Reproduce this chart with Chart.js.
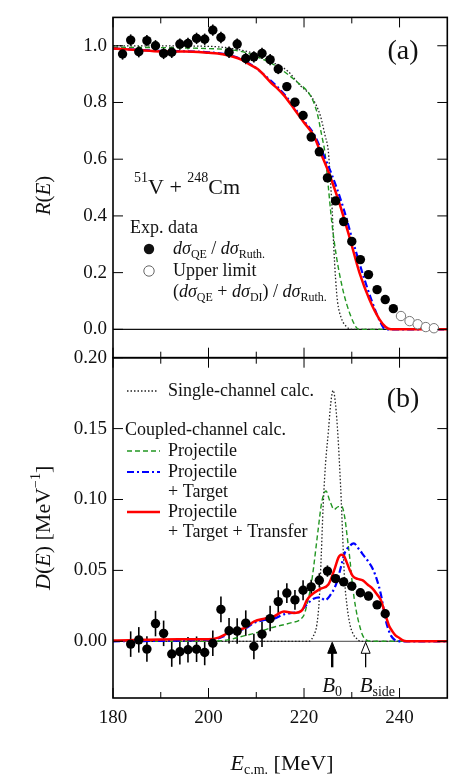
<!DOCTYPE html>
<html>
<head>
<meta charset="utf-8">
<script src="https://cdn.jsdelivr.net/npm/chart.js@4.4.0/dist/chart.umd.min.js"></script>
<style>
  html, body { margin: 0; padding: 0; background: #fff; }
  #chart { display: block; }
</style>
</head>
<body>
<canvas id="chart" width="453" height="776"></canvas>
<script>
// ---- values ----
const xMajorTicks = [180, 200, 220, 240];
const xMinorTicks = [190, 210, 230];
const rTicks = [0, 0.2, 0.4, 0.6, 0.8, 1.0];
const dTicks = [0, 0.05, 0.10, 0.15, 0.20];
const barrierB0 = 225.9;
const barrierBside = 232.9;

// (a) quasi-elastic ratio R(E)
const expE = [182.0, 183.7, 185.4, 187.1, 188.9, 190.6, 192.3, 194.0, 195.7, 197.5, 199.2, 200.9, 202.6, 204.3, 206.0, 207.8, 209.5, 211.2, 212.9, 214.6, 216.4, 218.1, 219.8, 221.5, 223.2, 224.9, 226.6, 228.3, 230.0, 231.8, 233.5, 235.3, 237.0, 238.7];
const expR = [0.971, 1.020, 0.979, 1.018, 1.000, 0.973, 0.977, 1.006, 1.008, 1.026, 1.023, 1.055, 1.029, 0.977, 1.006, 0.955, 0.961, 0.973, 0.951, 0.918, 0.856, 0.801, 0.754, 0.678, 0.626, 0.534, 0.453, 0.380, 0.310, 0.246, 0.193, 0.140, 0.105, 0.073];
const expRErr = [0.02, 0.02, 0.02, 0.02, 0.02, 0.02, 0.02, 0.02, 0.02, 0.02, 0.02, 0.02, 0.02, 0.02, 0.02, 0.02, 0.02, 0.02, 0.02, 0.018, 0.015, 0.015, 0.015, 0.012, 0.012, 0.01, 0.01, 0.01, 0.01, 0.008, 0.008, 0.008, 0.006, 0.006];
const upperE = [240.3, 242.1, 243.8, 245.5, 247.2];
const upperR = [0.047, 0.029, 0.018, 0.008, 0.004];

const singleRE = [180, 200, 205, 210, 213, 216.5, 219.2, 221.6, 223.4, 224.4, 225.1, 225.5, 225.9, 226.2, 226.6, 227.0, 227.8, 229.0, 230.0, 250];
const singleR  = [1.0, 0.998, 0.99, 0.97, 0.945, 0.912, 0.86, 0.819, 0.754, 0.684, 0.626, 0.53, 0.42, 0.30, 0.18, 0.10, 0.04, 0.008, 0, 0];
const projRE = [180, 200, 205, 208, 211, 213, 215.1, 218.6, 221.3, 222.7, 223.7, 224.4, 225.1, 225.8, 226.8, 228.2, 229.6, 230.9, 231.5, 250];
const projR  = [0.995, 0.99, 0.985, 0.975, 0.955, 0.94, 0.918, 0.871, 0.825, 0.766, 0.684, 0.62, 0.50, 0.38, 0.255, 0.135, 0.055, 0.008, 0, 0];
const projTargRE = [180, 190, 200, 205, 208.5, 211.7, 215.8, 219.9, 222.0, 223.7, 225.8, 228.2, 230.2, 232.3, 234.4, 235.8, 237.1, 250];
const projTargR  = [0.99, 0.982, 0.977, 0.964, 0.938, 0.897, 0.83, 0.737, 0.69, 0.63, 0.546, 0.43, 0.312, 0.195, 0.09, 0.032, 0, 0];
const fullRE = [180, 185, 190, 195, 200, 203, 205, 207, 208.5, 210.3, 211.7, 213.0, 214.4, 215.8, 217.9, 219.9, 222.0, 223.7, 225.1, 226.1, 227.5, 229.6, 231.6, 233.7, 235.8, 237.1, 238.2, 250];
const fullR  = [0.99, 0.985, 0.98, 0.98, 0.975, 0.97, 0.962, 0.95, 0.935, 0.918, 0.895, 0.871, 0.85, 0.825, 0.778, 0.731, 0.684, 0.614, 0.556, 0.51, 0.44, 0.32, 0.2, 0.105, 0.035, 0.008, 0, 0];

// (b) barrier distribution D(E)
const expDE = [183.7, 185.4, 187.1, 188.9, 190.6, 192.3, 194.0, 195.7, 197.5, 199.2, 200.9, 202.6, 204.3, 206.0, 207.8, 209.5, 211.2, 212.9, 214.6, 216.4, 218.1, 219.8, 221.5, 223.2, 224.9, 226.6, 228.3, 230.0, 231.8, 233.5, 235.3, 237.0];
const expD = [-0.002, 0.001, -0.0055, 0.0125, 0.0056, -0.009, -0.0074, -0.006, -0.0056, -0.0079, -0.0014, 0.0225, 0.0074, 0.0072, 0.0128, -0.0037, 0.005, 0.016, 0.028, 0.034, 0.0292, 0.036, 0.0384, 0.043, 0.0495, 0.0442, 0.0419, 0.0389, 0.0342, 0.0319, 0.0257, 0.0194];
const expDErr = [0.009, 0.009, 0.009, 0.009, 0.009, 0.009, 0.009, 0.009, 0.009, 0.009, 0.009, 0.009, 0.009, 0.009, 0.009, 0.009, 0.009, 0.009, 0.008, 0.007, 0.007, 0.007, 0.005, 0.005, 0.004, 0.003, 0.003, 0.003, 0.003, 0.003, 0.003, 0.003];

const singleDE = [180, 221.0, 222.0, 222.7, 223.2, 223.6, 224.0, 224.5, 225.1, 225.6, 226.1, 226.6, 227.1, 227.5, 227.8, 228.2, 228.5, 229.0, 229.6, 230.3, 231.0, 231.8, 250];
const singleD  = [0, 0, 0.004, 0.012, 0.03, 0.06, 0.095, 0.125, 0.148, 0.168, 0.177, 0.167, 0.145, 0.12, 0.099, 0.065, 0.043, 0.025, 0.012, 0.005, 0.002, 0, 0];
const projDE = [180, 200, 204, 207.6, 210, 213.1, 217.2, 219.9, 220.9, 221.5, 222.0, 222.5, 223.0, 223.7, 224.6, 225.4, 226.3, 227.2, 227.9, 228.5, 229.1, 229.6, 230.2, 230.7, 231.2, 231.8, 232.3, 233.0, 234.0, 250];
const projD  = [0, 0, 0.001, 0.004, 0.006, 0.0095, 0.013, 0.018, 0.03, 0.04, 0.052, 0.066, 0.080, 0.098, 0.106, 0.099, 0.093, 0.095, 0.095, 0.088, 0.072, 0.058, 0.038, 0.026, 0.017, 0.009, 0.004, 0.001, 0, 0];
const projTargDE = [180, 200, 202, 204.8, 207.6, 209.6, 211.7, 213.7, 215.8, 217.5, 219.2, 220.6, 222.0, 223.4, 224.4, 225.4, 226.8, 227.7, 228.5, 229.5, 230.4, 231.5, 232.6, 233.5, 234.4, 235.3, 236.1, 236.6, 237.1, 237.7, 238.2, 239.0, 240.0, 250];
const projTargD  = [0, 0.0012, 0.002, 0.006, 0.009, 0.013, 0.015, 0.016, 0.019, 0.020, 0.021, 0.026, 0.030, 0.031, 0.029, 0.032, 0.041, 0.052, 0.062, 0.067, 0.069, 0.065, 0.060, 0.056, 0.051, 0.043, 0.033, 0.024, 0.015, 0.008, 0.004, 0.001, 0, 0];
const fullDE = [180, 193.8, 200, 202.1, 204.8, 207.6, 209.6, 211.7, 213.7, 215.8, 217.9, 219.6, 220.6, 221.3, 223.4, 225.1, 226.5, 227.2, 227.8, 228.4, 228.9, 229.6, 230.2, 231.2, 232.3, 233.3, 234.4, 235.3, 236.1, 237.1, 237.8, 238.5, 239.2, 239.9, 240.6, 241.5, 250];
const fullD  = [0.0005, 0.0014, 0.0014, 0.0026, 0.007, 0.0095, 0.014, 0.016, 0.0176, 0.021, 0.020, 0.022, 0.029, 0.032, 0.037, 0.040, 0.052, 0.059, 0.061, 0.060, 0.056, 0.050, 0.046, 0.044, 0.043, 0.040, 0.037, 0.033, 0.029, 0.018, 0.011, 0.007, 0.004, 0.0025, 0.0008, 0, 0];

// ---- styles ----
const SERIF = '"Liberation Serif", "Times New Roman", serif';
const RED = 'rgb(255,0,0)', BLUE = 'rgb(0,0,255)', GREEN = 'rgb(34,150,34)', DOT = '#222';
const styleSingle = { borderColor: DOT, borderWidth: 1.3, borderDash: [1.5, 2] };
const styleProj = { borderColor: GREEN, borderWidth: 1.4, borderDash: [5, 3] };
const styleProjTarg = { borderColor: BLUE, borderWidth: 2.2, borderDash: [7, 3, 2, 3] };
const styleFull = { borderColor: RED, borderWidth: 2.5, borderDash: [] };
const LEG = 18;

const pts = (xs, ys) => xs.map((x, i) => ({ x: x, y: ys[i] }));

function curve(xs, ys, axis, style) {
  return Object.assign({
    data: pts(xs, ys), yAxisID: axis, showLine: true, fill: false,
    pointRadius: 0, cubicInterpolationMode: 'monotone'
  }, style);
}

function font(size, italic) {
  return (italic ? 'italic ' : '') + size + 'px ' + SERIF;
}

// parts: [text, size, italic, dy]
function rich(ctx, x, y, parts, align) {
  let w = 0;
  parts.forEach(p => { ctx.font = font(p[1], p[2]); w += ctx.measureText(p[0]).width; });
  let cx = align === 'center' ? x - w / 2 : x;
  parts.forEach(p => {
    ctx.font = font(p[1], p[2]);
    ctx.fillText(p[0], cx, y + (p[3] || 0));
    cx += ctx.measureText(p[0]).width;
  });
}

function sample(ctx, x1, x2, y, style) {
  ctx.save();
  ctx.strokeStyle = style.borderColor;
  ctx.lineWidth = style.borderWidth;
  ctx.setLineDash(style.borderDash);
  ctx.beginPath(); ctx.moveTo(x1, y); ctx.lineTo(x2, y); ctx.stroke();
  ctx.restore();
}

const panelPlugin = {
  id: 'panelPlugin',
  beforeDatasetsDraw(chart) {
    const ctx = chart.ctx, xs = chart.scales.x;
    // zero lines
    [['yR', 1.3, '#111'], ['yD', 1, '#444']].forEach(([id, lw, col]) => {
      const ys = chart.scales[id];
      const y0 = ys.getPixelForValue(0);
      ctx.save();
      ctx.strokeStyle = col; ctx.lineWidth = lw;
      ctx.beginPath(); ctx.moveTo(xs.left, y0); ctx.lineTo(xs.right, y0); ctx.stroke();
      ctx.restore();
    });
    // error bars
    chart.data.datasets.forEach((ds, i) => {
      if (!ds.errors) return;
      const ys = chart.scales[ds.yAxisID];
      const meta = chart.getDatasetMeta(i);
      ctx.save();
      ctx.strokeStyle = '#000'; ctx.lineWidth = 1.6;
      meta.data.forEach((el, j) => {
        const v = ds.data[j].y, e = ds.errors[j];
        ctx.beginPath();
        ctx.moveTo(el.x, ys.getPixelForValue(v + e));
        ctx.lineTo(el.x, ys.getPixelForValue(v - e));
        ctx.stroke();
      });
      ctx.restore();
    });
  },
  afterDraw(chart) {
    const ctx = chart.ctx, xs = chart.scales.x;
    const yR = chart.scales.yR, yD = chart.scales.yD;
    const line = (a, b, c, d) => { ctx.beginPath(); ctx.moveTo(a, b); ctx.lineTo(c, d); ctx.stroke(); };

    // frames and inward ticks
    ctx.save();
    ctx.strokeStyle = '#000';
    [yR, yD].forEach(ys => {
      ctx.lineWidth = 1;
      ys.ticks.forEach(t => {
        const py = ys.getPixelForValue(t.value);
        line(xs.left, py, xs.left + 10, py);
        line(xs.right, py, xs.right - 10, py);
      });
      xMajorTicks.concat(xMinorTicks).forEach(v => {
        const px = xs.getPixelForValue(v);
        const len = xMajorTicks.includes(v) ? 10 : 6;
        line(px, ys.top, px, ys.top + len);
        line(px, ys.bottom, px, ys.bottom - len);
      });
      ctx.lineWidth = 1.6;
      ctx.strokeRect(xs.left, ys.top, xs.right - xs.left, ys.bottom - ys.top);
    });
    ctx.restore();

    ctx.save();
    ctx.fillStyle = '#111';
    ctx.textBaseline = 'alphabetic';

    // panel (a) annotations
    ctx.textAlign = 'left';
    rich(ctx, 403, 59, [['(a)', 28]], 'center');
    rich(ctx, 134, 194, [['51', 14, false, -12], ['V', 22], [' + ', 22], ['248', 14, false, -12], ['Cm', 22]]);
    rich(ctx, 130, 233, [['Exp. data', LEG]]);
    ctx.beginPath(); ctx.arc(149, 249, 5.2, 0, Math.PI * 2); ctx.fill();
    rich(ctx, 173, 254, [['d\u03C3', LEG, true], ['QE', 12, false, 4], [' / ', LEG], ['d\u03C3', LEG, true], ['Ruth.', 12, false, 4]]);
    ctx.save();
    ctx.strokeStyle = '#666'; ctx.lineWidth = 1; ctx.fillStyle = '#fff';
    ctx.beginPath(); ctx.arc(149, 271, 5.2, 0, Math.PI * 2); ctx.fill(); ctx.stroke();
    ctx.restore();
    rich(ctx, 173, 276, [['Upper limit', LEG]]);
    rich(ctx, 173, 297, [['(', LEG], ['d\u03C3', LEG, true], ['QE', 12, false, 4], [' + ', LEG], ['d\u03C3', LEG, true], ['DI', 12, false, 4], [') / ', LEG], ['d\u03C3', LEG, true], ['Ruth.', 12, false, 4]]);

    // panel (b) annotations
    rich(ctx, 403, 407, [['(b)', 28]], 'center');
    sample(ctx, 127, 158, 391, styleSingle);
    rich(ctx, 168, 396, [['Single-channel calc.', LEG]]);
    rich(ctx, 125, 435, [['Coupled-channel calc.', LEG]]);
    sample(ctx, 127, 160, 451, styleProj);
    rich(ctx, 168, 456, [['Projectile', LEG]]);
    sample(ctx, 127, 160, 472, styleProjTarg);
    rich(ctx, 168, 477, [['Projectile', LEG]]);
    rich(ctx, 168, 497, [['+ Target', LEG]]);
    sample(ctx, 127, 160, 512, styleFull);
    rich(ctx, 168, 517, [['Projectile', LEG]]);
    rich(ctx, 168, 537, [['+ Target + Transfer', LEG]]);

    // barrier arrows
    const tipY = yD.getPixelForValue(0);
    [[barrierB0, true], [barrierBside, false]].forEach(([e, filled]) => {
      const px = xs.getPixelForValue(e);
      ctx.save();
      ctx.strokeStyle = '#000';
      ctx.lineWidth = filled ? 2.4 : 1.3;
      line(px, tipY + 11, px, tipY + 26);
      ctx.lineWidth = 1;
      ctx.beginPath();
      ctx.moveTo(px, tipY + 1); ctx.lineTo(px - 4.5, tipY + 12); ctx.lineTo(px + 4.5, tipY + 12); ctx.closePath();
      ctx.fillStyle = filled ? '#000' : '#fff';
      ctx.fill(); ctx.stroke();
      ctx.restore();
    });
    rich(ctx, xs.getPixelForValue(barrierB0), 692, [['B', 21, true], ['0', 14, false, 4]], 'center');
    rich(ctx, xs.getPixelForValue(barrierBside) - 6, 692, [['B', 21, true], ['side', 14, false, 4]]);

    // axis titles
    rich(ctx, 282, 770, [['E', 22, true], ['c.m.', 14, false, 4], [' [MeV]', 22]], 'center');
    ctx.save();
    ctx.translate(50, (yR.top + yR.bottom) / 2 + 8);
    ctx.rotate(-Math.PI / 2);
    rich(ctx, 0, 0, [['R', 21, true], ['(', 21], ['E', 21, true], [')', 21]], 'center');
    ctx.restore();
    ctx.save();
    ctx.translate(50, (yD.top + yD.bottom) / 2);
    ctx.rotate(-Math.PI / 2);
    rich(ctx, 0, 0, [['D', 22, true], ['(', 22], ['E', 22, true], [') [MeV', 22], ['\u22121', 14, false, -10], [']', 22]], 'center');
    ctx.restore();

    ctx.restore();
  }
};

const tickFont = { family: SERIF, size: 19 };

const yScale = (min, max, values, digits) => ({
  type: 'linear', position: 'left', stack: 'panels', stackWeight: 1,
  min: min, max: max,
  grid: { display: false, drawTicks: false },
  border: { display: false },
  afterBuildTicks: s => { s.ticks = values.map(v => ({ value: v })); },
  afterFit: s => { s.width = 113; },
  ticks: {
    autoSkip: false, padding: 6, color: '#111', font: tickFont,
    callback: v => Number(v).toFixed(digits)
  }
});

new Chart(document.getElementById('chart').getContext('2d'), {
  type: 'line',
  data: {
    datasets: [
      { data: pts(expE, expR), errors: expRErr, yAxisID: 'yR', showLine: false,
        pointRadius: 4.7, pointBackgroundColor: '#000', pointBorderColor: '#000', pointBorderWidth: 0 },
      { data: pts(upperE, upperR), yAxisID: 'yR', showLine: false,
        pointRadius: 4.7, pointBackgroundColor: '#fff', pointBorderColor: '#777', pointBorderWidth: 1 },
      { data: pts(expDE, expD), errors: expDErr, yAxisID: 'yD', showLine: false,
        pointRadius: 4.7, pointBackgroundColor: '#000', pointBorderColor: '#000', pointBorderWidth: 0 },
      curve(fullRE, fullR, 'yR', styleFull),
      curve(fullDE, fullD, 'yD', styleFull),
      curve(projTargRE, projTargR, 'yR', styleProjTarg),
      curve(projTargDE, projTargD, 'yD', styleProjTarg),
      curve(projRE, projR, 'yR', styleProj),
      curve(projDE, projD, 'yD', styleProj),
      curve(singleRE, singleR, 'yR', styleSingle),
      curve(singleDE, singleD, 'yD', styleSingle)
    ]
  },
  options: {
    responsive: false,
    animation: false,
    layout: { padding: { left: 0, right: 1, top: 10, bottom: 0 } },
    plugins: { legend: { display: false }, tooltip: { enabled: false } },
    scales: {
      x: {
        type: 'linear', position: 'bottom', min: 180, max: 250,
        grid: { display: false, drawTicks: false },
        border: { display: false },
        afterBuildTicks: s => { s.ticks = xMajorTicks.map(v => ({ value: v })); },
        afterFit: s => { s.height = 78; },
        ticks: { padding: 9, color: '#111', font: tickFont, maxRotation: 0 }
      },
      // stacked panels: the scale listed last ends up on top
      yD: yScale(-0.04, 0.20, dTicks, 2),
      yR: yScale(-0.1, 1.1, rTicks, 1)
    }
  },
  plugins: [panelPlugin]
});
</script>
</body>
</html>
